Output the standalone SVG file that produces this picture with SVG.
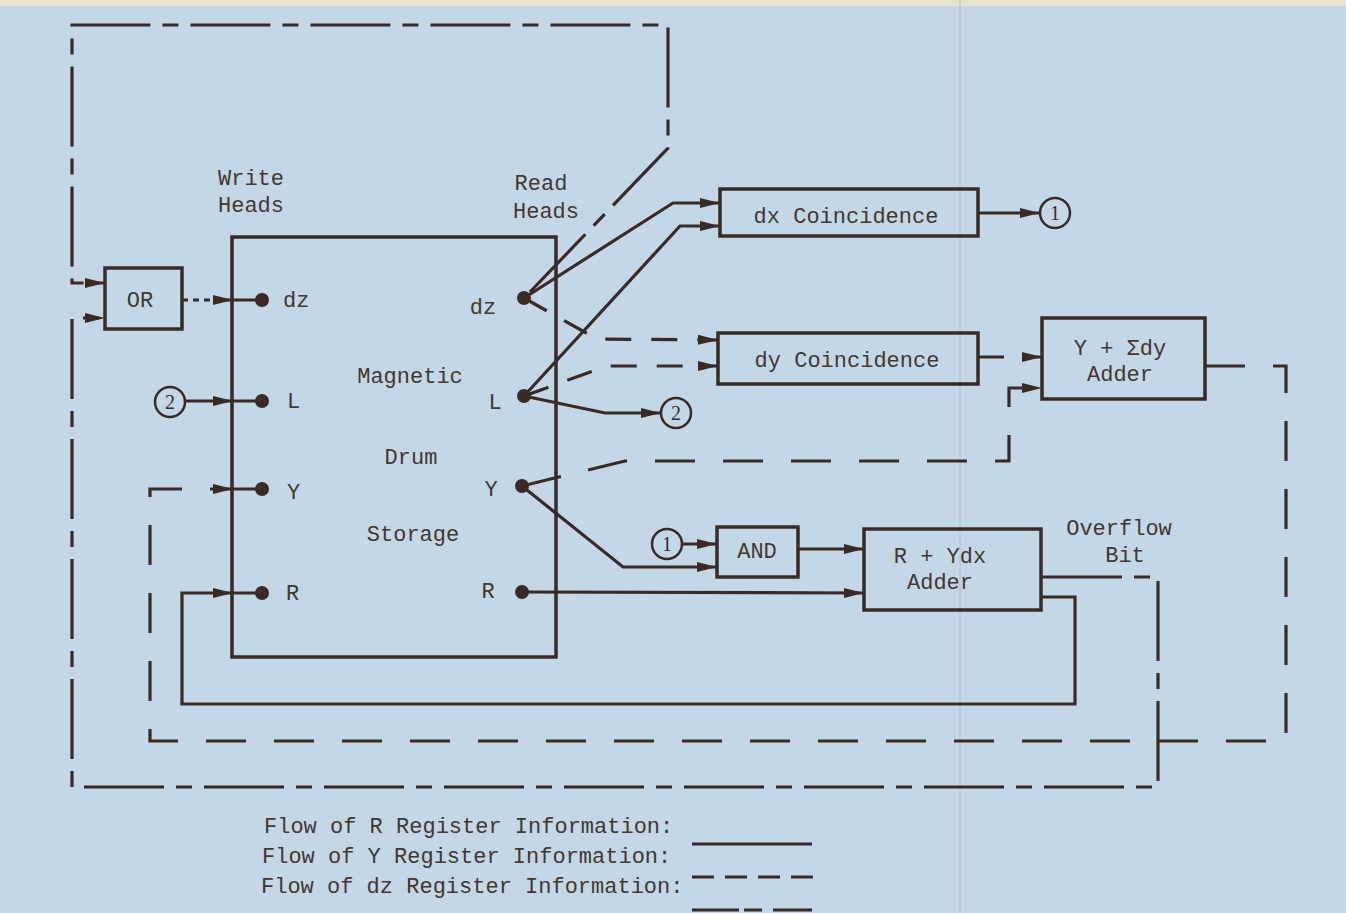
<svg xmlns="http://www.w3.org/2000/svg" width="1346" height="913" viewBox="0 0 1346 913">
<defs>
<marker id="arr" viewBox="0 0 20 11" refX="20" refY="5.5" markerWidth="20" markerHeight="11" markerUnits="userSpaceOnUse" orient="auto"><path d="M0,0.5 L20,5.5 L0,10.5 z" fill="#3a2a26"/></marker>
</defs>
<style>
.ln{fill:none;stroke:#3a2a26;stroke-width:3.2;stroke-linejoin:miter}
.dy{stroke-dasharray:40 28}
.dys{stroke-dasharray:26 20}
.dz{stroke-dasharray:80 12 16 12}
.dzs{stroke-dasharray:6 5}
.box{fill:none;stroke:#3a2a26;stroke-width:3.5}
.cir{fill:none;stroke:#3a2a26;stroke-width:2.5}
.t{font-family:"Liberation Mono","Courier New",monospace;font-size:22px;fill:#44372f;text-anchor:middle}
.s{text-anchor:start}
.n{font-family:"Liberation Serif","Times New Roman",serif;font-size:20px;fill:#3a2a26;text-anchor:middle}
.dot{fill:#3a2a26}
</style>
<rect x="0" y="0" width="1346" height="913" fill="#c3d7e7"/>
<rect x="0" y="0" width="1346" height="6" fill="#e6e2cf"/>
<line x1="960" y1="0" x2="960" y2="913" stroke="#c9b2dc" stroke-width="1"/>

<g id="connectors">
  <path class="ln" d="M524,298 L673,203 L720,203" marker-end="url(#arr)"/>
  <path class="ln" d="M524,396 L680,226 L720,226" marker-end="url(#arr)"/>
  <path class="ln" d="M524,396 L605,413 L661,413" marker-end="url(#arr)"/>
  <path class="ln" d="M978,213 L1040,213" marker-end="url(#arr)"/>
  <path class="ln" d="M522,486 L623,567 L717,567" marker-end="url(#arr)"/>
  <path class="ln" d="M683,544 L717,544" marker-end="url(#arr)"/>
  <path class="ln" d="M798,549 L864,549" marker-end="url(#arr)"/>
  <path class="ln" d="M522,592 L864,593" marker-end="url(#arr)"/>
  <path class="ln" d="M1040,597 L1075,597 L1075,704 L182,704 L182,593 L233,593" marker-end="url(#arr)"/>
  <path class="ln" d="M186,401 L233,401" marker-end="url(#arr)"/>
  <path class="ln" d="M233,300 L262,300 M233,401 L262,401 M233,489 L262,489 M233,593 L262,593"/>
  <path class="ln dys" d="M524,298 L597,339 L718,340" marker-end="url(#arr)"/>
  <path class="ln dys" d="M524,396 L607,366 L718,366" marker-end="url(#arr)"/>
  <path class="ln dys" d="M978,357 L1042,357" marker-end="url(#arr)"/>
  <path class="ln dy" d="M522,486 L625,461 L1009,461 L1009,388 L1042,388" marker-end="url(#arr)"/>
  <path class="ln dy" d="M1205,366 L1286,366 L1286,741 L150,741 L150,489 L233,489" marker-end="url(#arr)"/>
  <path class="ln dz" d="M530,292 L668,148 L668,25 L72,25 L72,283 L105,283" marker-end="url(#arr)"/>
  <path class="ln dz" d="M1042,577 L1158,577 L1158,787 L72,787 L72,318 L105,318" marker-end="url(#arr)"/>
  <path class="ln dzs" d="M182,300 L233,300" marker-end="url(#arr)"/>
</g>

<g id="drum">
  <rect class="box" x="232" y="237" width="324" height="420"/>
  <text class="t" x="410" y="383">Magnetic</text>
  <text class="t" x="411" y="464">Drum</text>
  <text class="t" x="413" y="541">Storage</text>
  <circle class="dot" cx="262" cy="300" r="7"/>
  <circle class="dot" cx="262" cy="401" r="7"/>
  <circle class="dot" cx="262" cy="489" r="7"/>
  <circle class="dot" cx="262" cy="593" r="7"/>
  <circle class="dot" cx="524" cy="298" r="7"/>
  <circle class="dot" cx="524" cy="396" r="7"/>
  <circle class="dot" cx="522" cy="486" r="7"/>
  <circle class="dot" cx="522" cy="592" r="7"/>
  <text class="t s" x="283" y="307">dz</text>
  <text class="t s" x="287" y="408">L</text>
  <text class="t s" x="287" y="499">Y</text>
  <text class="t s" x="286" y="600">R</text>
  <text class="t" x="483" y="314">dz</text>
  <text class="t" x="495" y="409">L</text>
  <text class="t" x="491" y="496">Y</text>
  <text class="t" x="488" y="598">R</text>
</g>

<g id="write-heads-label">
  <text class="t" x="251" y="185">Write</text>
  <text class="t" x="251" y="212">Heads</text>
</g>
<g id="read-heads-label">
  <text class="t" x="541" y="190">Read</text>
  <text class="t" x="546" y="218">Heads</text>
</g>

<g id="or-gate">
  <rect class="box" x="105" y="268" width="77" height="61"/>
  <text class="t" x="140" y="307">OR</text>
</g>

<g id="dx-coincidence">
  <rect class="box" x="720" y="189" width="258" height="47"/>
  <text class="t" x="846" y="223">dx Coincidence</text>
</g>

<g id="dy-coincidence">
  <rect class="box" x="718" y="333" width="260" height="51"/>
  <text class="t" x="847" y="367">dy Coincidence</text>
</g>

<g id="y-dy-adder">
  <rect class="box" x="1042" y="318" width="163" height="81"/>
  <text class="t" x="1120" y="355">Y + Σdy</text>
  <text class="t" x="1120" y="381">Adder</text>
</g>

<g id="and-gate">
  <rect class="box" x="717" y="527" width="81" height="50"/>
  <text class="t" x="757" y="558">AND</text>
</g>

<g id="r-ydx-adder">
  <rect class="box" x="864" y="529" width="177" height="81"/>
  <text class="t" x="940" y="563">R + Ydx</text>
  <text class="t" x="940" y="589">Adder</text>
</g>

<g id="overflow-label">
  <text class="t" x="1119" y="535">Overflow</text>
  <text class="t" x="1125" y="562">Bit</text>
</g>

<g id="conn-1-out">
  <circle class="cir" cx="1055" cy="213" r="15"/>
  <text class="n" x="1055" y="220">1</text>
</g>
<g id="conn-1-in">
  <circle class="cir" cx="667" cy="544" r="15"/>
  <text class="n" x="667" y="551">1</text>
</g>
<g id="conn-2-out">
  <circle class="cir" cx="676" cy="413" r="15"/>
  <text class="n" x="676" y="420">2</text>
</g>
<g id="conn-2-in">
  <circle class="cir" cx="170" cy="402" r="15"/>
  <text class="n" x="170" y="409">2</text>
</g>

<g id="legend">
  <text class="t s" x="264" y="833">Flow of R Register Information:</text>
  <text class="t s" x="262" y="863">Flow of Y Register Information:</text>
  <text class="t s" x="261" y="893">Flow of dz Register Information:</text>
  <line class="ln" x1="692" y1="844" x2="812" y2="844"/>
  <line class="ln" x1="692" y1="877" x2="815" y2="877" stroke-dasharray="22 11"/>
  <line class="ln" x1="692" y1="910" x2="812" y2="910" stroke-dasharray="47 5 18 11 42"/>
</g>
</svg>
